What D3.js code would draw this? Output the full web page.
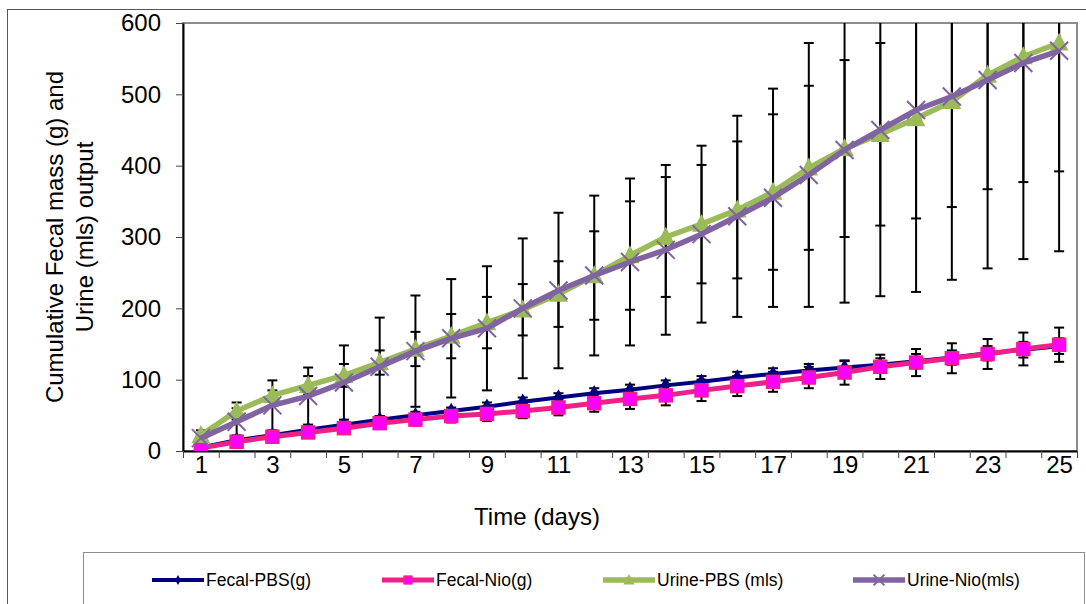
<!DOCTYPE html>
<html>
<head>
<meta charset="utf-8">
<script src="https://cdn.jsdelivr.net/npm/d3@7"></script>
<style>
  body { margin: 0; background: #fff; }
  svg { display: block; font-family: "Liberation Sans", Arial, sans-serif; }
</style>
</head>
<body>
<script>
// data
const days = d3.range(1, 26);
const fecalPBS = [5, 15, 22, 30, 37, 44, 50, 56, 62, 69, 75, 81, 86, 92, 97, 103, 108, 113, 117, 121, 126, 131, 137, 142, 147];
const fecalNio = [4, 13, 20, 26, 32, 39, 44, 49, 52, 56, 61, 67, 73, 78, 85, 91, 97, 103, 110, 118, 124, 130, 136, 143, 149];
const urinePBS = [22, 56, 78, 92, 106, 124, 143, 161, 180, 198, 220, 246, 274, 300, 318, 338, 363, 397, 424, 444, 466, 490, 527, 553, 572];
const urineNio = [18, 41, 64, 77, 96, 118, 140, 158, 172, 200, 225, 246, 265, 282, 304, 329, 355, 387, 422, 450, 478, 497, 520, 544, 561];
// error (sd)
const fecalPBSerr = [2, 3, 3, 4, 4, 5, 5, 5, 6, 6, 6, 7, 7, 7, 8, 8, 8, 9, 9, 9, 10, 10, 10, 11, 11];
const fecalNioErr = [2, 3, 4, 5, 6, 7, 8, 9, 10, 10, 11, 12, 14, 14, 15, 14, 14, 15, 17, 17, 19, 21, 21, 23, 24];
const urinePBSerr = [7, 12, 7, 13, 16, 17, 24, 31, 36, 36, 46, 62, 76, 84, 83, 96, 109, 115, 124, 128, 140, 148, 160, 176, 180];
const urineNioErr = [6, 19, 35, 40, 52, 69, 78, 83, 87, 98, 109, 112, 117, 119, 124, 141, 153, 185, 214, 233, 255, 257, 264, 275, 281];
const yTicks = [0, 100, 200, 300, 400, 500, 600];
const xLabels = [1, 3, 5, 7, 9, 11, 13, 15, 17, 19, 21, 23, 25];

const series = [
  { name: "Fecal-PBS(g)", values: fecalPBS, err: fecalPBSerr, color: "#000080", width: 4, marker: "diamond" },
  { name: "Fecal-Nio(g)", values: fecalNio, err: fecalNioErr, color: "#F0208A", width: 5, marker: "square" },
  { name: "Urine-PBS (mls)", values: urinePBS, err: urinePBSerr, color: "#9BBB59", width: 5.5, marker: "triangle" },
  { name: "Urine-Nio(mls)", values: urineNio, err: urineNioErr, color: "#8064A2", width: 5.5, marker: "cross" }
];

const W = 1086, H = 604;
const pLeft = 183, pRight = 1077, pTop = 23, pBottom = 451;

const svg = d3.select("body").append("svg")
    .attr("width", W)
    .attr("height", H);

// outer chart border
svg.append("rect")
    .attr("x", 7.5).attr("y", 9.5)
    .attr("width", 1100).attr("height", 700)
    .attr("fill", "#fff")
    .attr("stroke", "#555").attr("stroke-width", 1);

const x = d3.scaleLinear().domain([0.5, 25.5]).range([pLeft, pRight]);
const y = d3.scaleLinear().domain([0, 600]).range([pBottom, pTop]);

svg.append("clipPath").attr("id", "plotclip")
  .append("rect")
    .attr("x", pLeft).attr("y", pTop)
    .attr("width", pRight - pLeft).attr("height", pBottom - pTop);

// plot area border (gray top and right)
svg.append("rect")
    .attr("x", pLeft).attr("y", pTop)
    .attr("width", pRight - pLeft).attr("height", pBottom - pTop)
    .attr("fill", "none")
    .attr("stroke", "#8c8c8c").attr("stroke-width", 2);

// y axis
const yAxis = svg.append("g")
    .attr("transform", `translate(${pLeft},0)`)
    .call(d3.axisLeft(y).tickValues(yTicks).tickSize(7).tickSizeOuter(0).tickPadding(15));
yAxis.select(".domain").attr("stroke", "#000").attr("stroke-width", 2);
yAxis.selectAll(".tick line").attr("stroke", "#444");
yAxis.selectAll("text").attr("font-size", 24).attr("fill", "#000")
    .attr("font-family", "Liberation Sans, Arial, sans-serif");

// x axis ticks at category boundaries
const xAxis = svg.append("g")
    .attr("transform", `translate(0,${pBottom})`)
    .call(d3.axisBottom(x).tickValues(d3.range(0.5, 26, 1)).tickSize(7).tickSizeOuter(0).tickFormat(""));
xAxis.select(".domain").attr("stroke", "#000").attr("stroke-width", 2);
xAxis.selectAll(".tick line").attr("stroke", "#444");

const xLab = svg.append("g")
    .attr("transform", `translate(0,${pBottom})`)
    .call(d3.axisBottom(x).tickValues(xLabels).tickSize(0).tickPadding(5));
xLab.select(".domain").remove();
xLab.selectAll("text").attr("font-size", 24).attr("fill", "#000")
    .attr("font-family", "Liberation Sans, Arial, sans-serif");

// axis titles
svg.append("text")
    .attr("x", 537).attr("y", 525)
    .attr("text-anchor", "middle")
    .attr("font-size", 24)
    .text("Time (days)");

const yTitle = svg.append("text")
    .attr("transform", "translate(63,237) rotate(-90)")
    .attr("text-anchor", "middle")
    .attr("font-size", 24);
yTitle.append("tspan").attr("x", 0).attr("dy", 0).text("Cumulative Fecal mass (g) and");
yTitle.append("tspan").attr("x", 0).attr("dy", 30).text("Urine (mls) output");

const plot = svg.append("g").attr("clip-path", "url(#plotclip)");

// error bars
series.forEach(s => {
  const g = plot.append("g");
  s.values.forEach((v, i) => {
    const cx = x(days[i]);
    const lo = y(v - s.err[i]), hi = y(v + s.err[i]);
    g.append("line").attr("x1", cx).attr("x2", cx).attr("y1", lo).attr("y2", hi)
        .attr("stroke", "#000").attr("stroke-width", 2);
    [lo, hi].forEach(yy => g.append("line")
        .attr("x1", cx - 5).attr("x2", cx + 5).attr("y1", yy).attr("y2", yy)
        .attr("stroke", "#000").attr("stroke-width", 2));
  });
});

const line = d3.line().x((d, i) => x(days[i])).y(d => y(d));

function drawMarker(g, type, color, cx, cy, scale) {
  const k = scale || 1;
  if (type === "diamond") {
    g.append("path").attr("d", d3.symbol(d3.symbolDiamond, 80 * k * k)())
      .attr("transform", `translate(${cx},${cy})`).attr("fill", color);
  } else if (type === "square") {
    const s = 13 * k;
    g.append("rect").attr("x", cx - s / 2).attr("y", cy - s / 2).attr("width", s).attr("height", s)
      .attr("fill", "#FF00FF").attr("stroke", "#F0208A").attr("stroke-width", 1.5);
  } else if (type === "triangle") {
    const s = 17 * k;
    g.append("path")
      .attr("d", `M${cx},${cy - s * 0.6}L${cx + s * 0.55},${cy + s * 0.45}L${cx - s * 0.55},${cy + s * 0.45}Z`)
      .attr("fill", color);
  } else if (type === "cross") {
    const s = 9 * k;
    g.append("path")
      .attr("d", `M${cx - s},${cy - s}L${cx + s},${cy + s}M${cx - s},${cy + s}L${cx + s},${cy - s}`)
      .attr("stroke", color).attr("stroke-width", 2).attr("fill", "none");
  }
}

series.forEach(s => {
  const g = plot.append("g");
  g.append("path").datum(s.values)
      .attr("d", line)
      .attr("fill", "none")
      .attr("stroke", s.color)
      .attr("stroke-width", s.width)
      .attr("stroke-linejoin", "round");
  s.values.forEach((v, i) => drawMarker(g, s.marker, s.color, x(days[i]), y(v)));
});

// legend
svg.append("rect")
    .attr("x", 83.5).attr("y", 552.5)
    .attr("width", 1001).attr("height", 80)
    .attr("fill", "#fff").attr("stroke", "#8c8c8c").attr("stroke-width", 1);

const legendX = [152, 382, 603, 853];
series.forEach((s, i) => {
  const g = svg.append("g");
  const x0 = legendX[i], ly = 580;
  g.append("line").attr("x1", x0).attr("x2", x0 + 52).attr("y1", ly).attr("y2", ly)
      .attr("stroke", s.color).attr("stroke-width", s.width);
  drawMarker(g, s.marker, s.color, x0 + 26, ly, 0.6);
  g.append("text")
      .attr("x", x0 + 54).attr("y", ly + 6)
      .attr("font-size", 17.5)
      .text(s.name);
});
</script>
</body>
</html>
